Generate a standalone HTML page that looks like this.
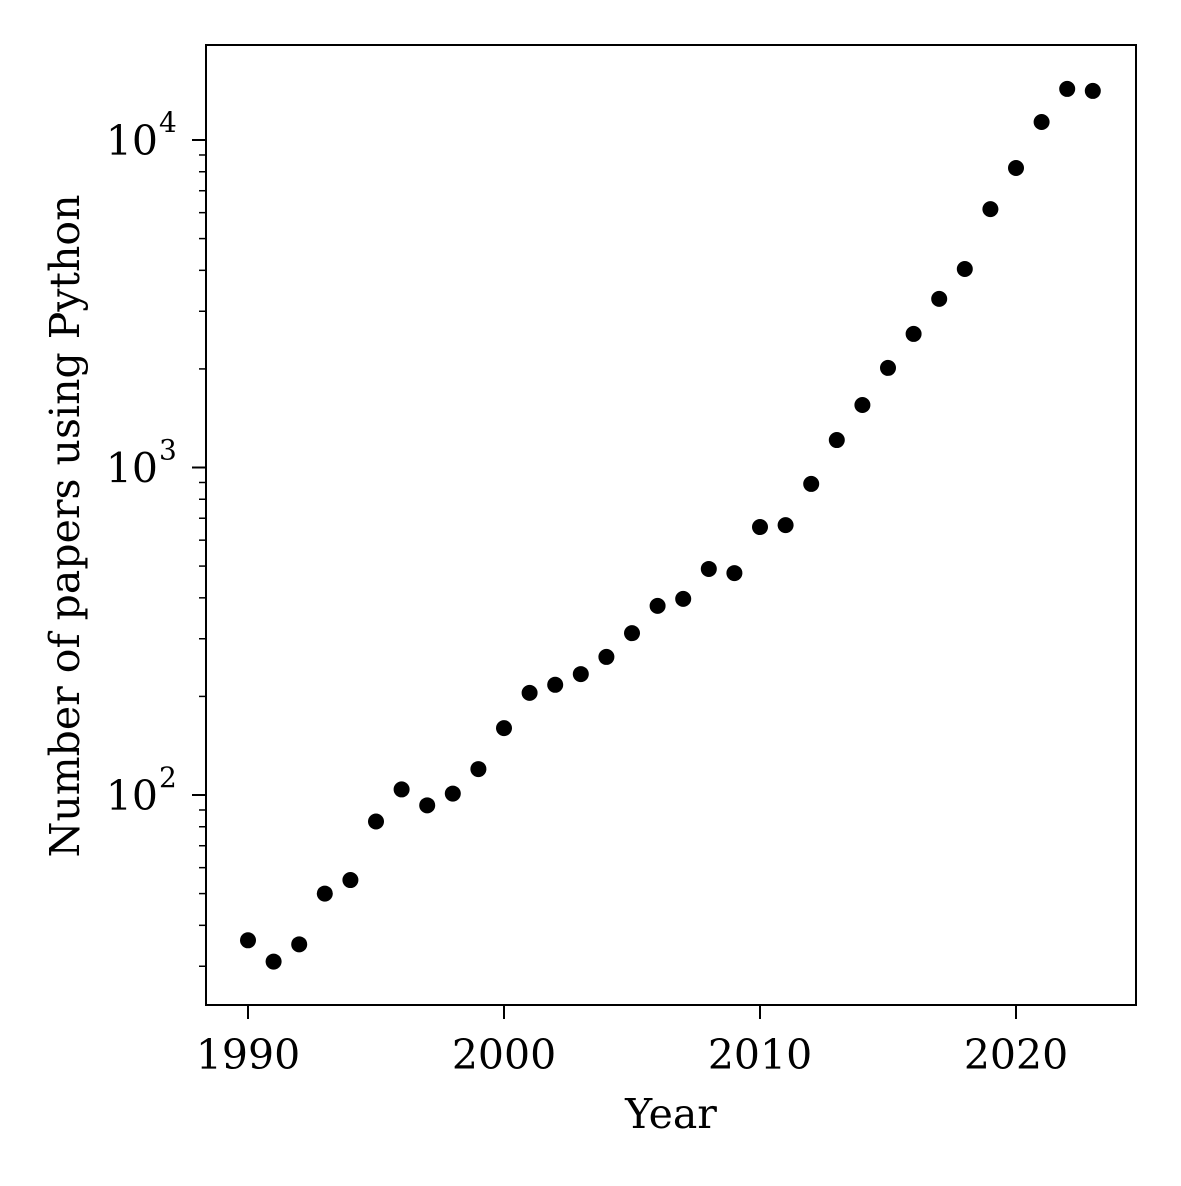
<!DOCTYPE html>
<html><head><meta charset="utf-8"><style>
body{margin:0;background:#fff}
svg text{font-family:"DejaVu Serif","Liberation Serif",serif;fill:#000}
</style></head><body>
<svg id="chart" width="1181" height="1181" xmlns="http://www.w3.org/2000/svg">
<rect x="0" y="0" width="1181" height="1181" fill="#fff"/>
<g id="ticks"></g>
<g id="points"></g>
<rect x="206" y="45" width="930" height="960" fill="none" stroke="#000" stroke-width="2"/>
<text x="671" y="1128" font-size="41" text-anchor="middle">Year</text>
<text transform="translate(79,526) rotate(-90)" font-size="41" text-anchor="middle">Number of papers using Python</text>
</svg>
<script>
const years=[1990,1991,1992,1993,1994,1995,1996,1997,1998,1999,2000,2001,2002,2003,2004,2005,2006,2007,2008,2009,2010,2011,2012,2013,2014,2015,2016,2017,2018,2019,2020,2021,2022,2023];
const papers=[36,31,35,50,55,83,104,93,101,120,160,205,217,234,264,312,378,397,490,476,658,667,891,1213,1552,2014,2558,3272,4037,6152,8213,11350,14320,14120];
const xTicks=[1990,2000,2010,2020];
const yMajorExp=[2,3,4];
const NS="http://www.w3.org/2000/svg";
function xs(v){return 248+(v-1990)*25.6;}
function ys(v){return 140+(4-Math.log10(v))*327.5;}
function mk(t,a,p){const e=document.createElementNS(NS,t);for(const k in a)e.setAttribute(k,a[k]);p.appendChild(e);return e;}
const tg=document.getElementById('ticks'),pg=document.getElementById('points');
xTicks.forEach(t=>{const x=xs(t);
const l=mk('line',{x1:x,x2:x,y1:1005,y2:1019,stroke:'#000','stroke-width':2},tg);


const tx=mk('text',{x:x,y:1069,'font-size':41,'text-anchor':'middle'},tg);tx.textContent=t;

});
yMajorExp.forEach(e=>{const y=ys(Math.pow(10,e));
const l=mk('line',{x1:192,x2:206,y1:y,y2:y,stroke:'#000','stroke-width':2},tg);


const tx=mk('text',{x:158,y:y+15,'font-size':41,'text-anchor':'end'},tg);tx.textContent='10';


const sp=mk('text',{x:159,y:y-8,'font-size':28,'text-anchor':'start'},tg);sp.textContent=e;

});
for(let e=1;e<=4;e++)for(let m=2;m<=9;m++){const v=m*Math.pow(10,e);const y=ys(v);if(y<45||y>1005)continue;
const l=mk('line',{x1:199,x2:206,y1:y,y2:y,stroke:'#000','stroke-width':1.5},tg);

}
years.forEach((yr,i)=>{const c=mk('circle',{cx:xs(yr),cy:ys(papers[i]),r:8,fill:'#000'},pg);

});
</script>
</body></html>
